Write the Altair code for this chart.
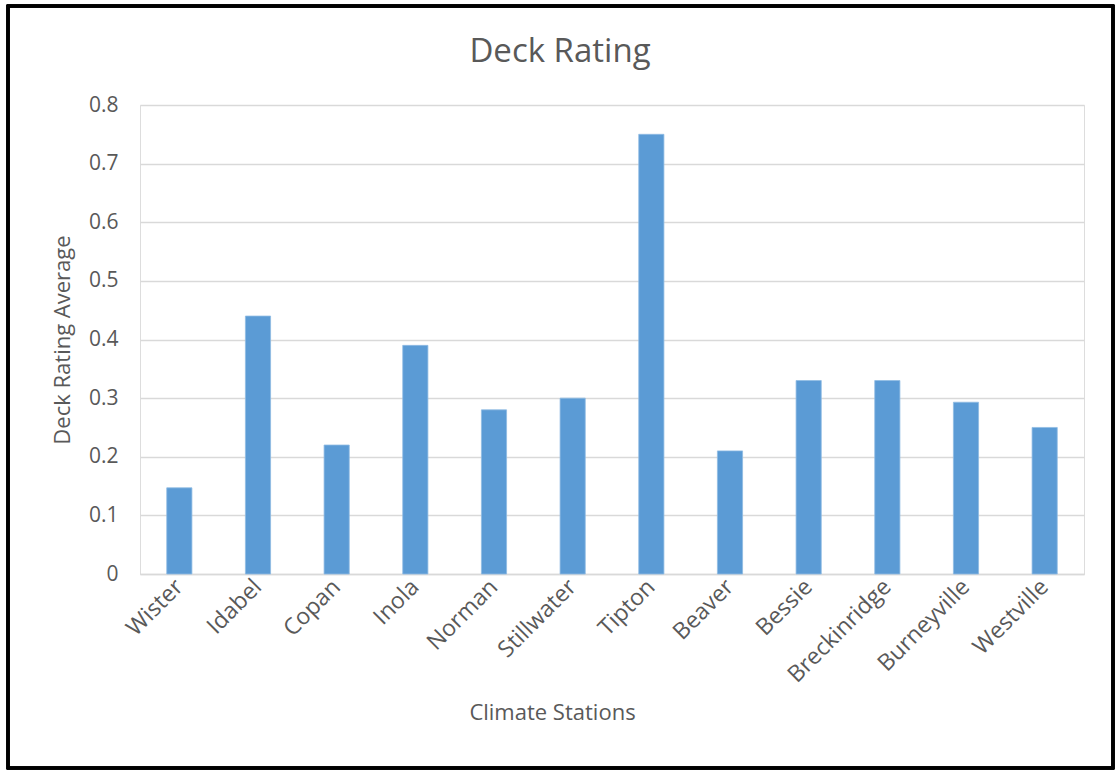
import altair as alt
import pandas as pd

# Average deck rating per climate station
stations = ["Wister", "Idabel", "Copan", "Inola", "Norman", "Stillwater",
            "Tipton", "Beaver", "Bessie", "Breckinridge", "Burneyville", "Westville"]
ratings = [0.147, 0.44, 0.22, 0.39, 0.28, 0.30, 0.75, 0.21, 0.33, 0.33, 0.293, 0.25]
y_ticks = [0, 0.1, 0.2, 0.3, 0.4, 0.5, 0.6, 0.7, 0.8]

df = pd.DataFrame({"station": stations, "rating": ratings})

TEXT = "#595959"
GRID = "#D9D9D9"
FONT = "Open Sans"
W, H = 944, 469

bars = alt.Chart(df).mark_bar(color="#5B9BD5", stroke="#8FBBE3", strokeWidth=0.8).encode(
    x=alt.X(
        "station:N",
        sort=stations,
        scale=alt.Scale(paddingInner=0.68, paddingOuter=0.34),
        axis=alt.Axis(
            title="Climate Stations",
            labelAngle=-45,
            labelAlign="right",
            labelBaseline="middle",
            labelPadding=9,
            labelFontSize=23,
            labelColor=TEXT,
            labelFont=FONT,
            ticks=False,
            domain=True,
            domainColor=GRID,
            domainWidth=1.5,
            titleFontSize=22,
            titleFontWeight="normal",
            titleColor=TEXT,
            titleFont=FONT,
            titleX=412,
            titleY=138,
            titleBaseline="middle",
        ),
    ),
    y=alt.Y(
        "rating:Q",
        scale=alt.Scale(domain=[0, 0.8], nice=False),
        axis=alt.Axis(
            title="Deck Rating Average",
            values=y_ticks,
            format=".1~f",
            labelFontSize=21,
            labelColor=TEXT,
            labelFont=FONT,
            labelPadding=22,
            ticks=False,
            domain=False,
            grid=True,
            gridColor=GRID,
            gridWidth=1.5,
            titleFontSize=22,
            titleFontWeight="normal",
            titleColor=TEXT,
            titleFont=FONT,
            titleX=-78,
            titleBaseline="middle",
        ),
    ),
)

# Outer frame around the whole figure
frame = alt.Chart(df).mark_rect(
    fill=None, stroke="#000000", strokeWidth=2.5, clip=False
).encode(
    x=alt.value(-132), x2=alt.value(W + 29),
    y=alt.value(-99), y2=alt.value(H + 194),
)

chart = alt.layer(bars, frame).properties(
    width=W,
    height=H,
    title=alt.TitleParams(
        "Deck Rating", fontSize=33, fontWeight="normal", color=TEXT, font=FONT,
        anchor="middle", offset=0, dy=64, dx=-52,
    ),
    autosize=alt.AutoSizeParams(type="none"),
    padding={"left": 140, "top": 105, "right": 33, "bottom": 196},
).configure_view(stroke=None).configure(background="#FFFFFF")

chart.save("out.html", embed_options={"renderer": "svg", "actions": False})
